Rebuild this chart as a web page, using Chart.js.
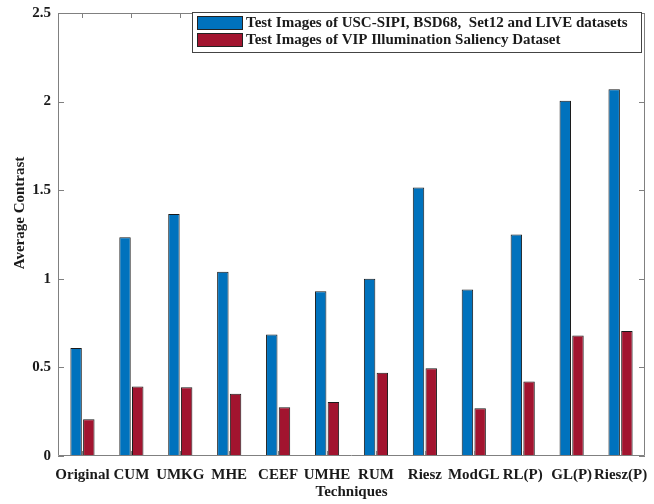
<!DOCTYPE html>
<html>
<head>
<meta charset="utf-8">
<script src="https://cdn.jsdelivr.net/npm/chart.js@4/dist/chart.umd.min.js"></script>
<style>
  html, body { margin: 0; padding: 0; background: #fff; }
  #wrap { width: 654px; height: 504px; }
</style>
</head>
<body>
<div id="wrap"><canvas id="barChart" width="654" height="504"></canvas></div>
<script>
const techniques = ['Original', 'CUM', 'UMKG', 'MHE', 'CEEF', 'UMHE', 'RUM', 'Riesz', 'ModGL', 'RL(P)', 'GL(P)', 'Riesz(P)'];
const testImagesUSC = [0.61, 1.235, 1.365, 1.04, 0.685, 0.93, 1.0, 1.515, 0.94, 1.25, 2.005, 2.07];
const testImagesVIP = [0.207, 0.392, 0.388, 0.352, 0.275, 0.305, 0.47, 0.495, 0.27, 0.42, 0.68, 0.705];
const yTicks = [0, 0.5, 1, 1.5, 2, 2.5];
const seriesNames = [
  'Test Images of USC-SIPI, BSD68,  Set12 and LIVE datasets',
  'Test Images of VIP Illumination Saliency Dataset'
];
const colors = ['#0072BD', '#A2142F'];

const serif = "'Liberation Serif', 'Times New Roman', serif";
const axisGrey = '#808080';
const textColor = '#1a1a1a';

// MATLAB style box, inward ticks, y label and legend
const matlabBox = {
  id: 'matlabBox',
  afterDraw(chart) {
    const ctx = chart.ctx;
    const a = chart.chartArea;
    const x = chart.scales.x, y = chart.scales.y;
    ctx.save();
    ctx.strokeStyle = axisGrey;
    ctx.lineWidth = 1;
    ctx.beginPath();
    ctx.moveTo(a.left + 0.5, a.top + 0.5);
    ctx.lineTo(a.right - 0.5, a.top + 0.5);
    ctx.lineTo(a.right - 0.5, a.bottom - 0.5);
    ctx.moveTo(a.left + 0.5, a.top + 0.5);
    ctx.lineTo(a.left + 0.5, a.bottom - 0.5);
    ctx.lineTo(a.right - 0.5, a.bottom - 0.5);
    yTicks.forEach(v => {
      const py = Math.round(y.getPixelForValue(v)) + 0.5;
      ctx.moveTo(a.left, py); ctx.lineTo(a.left + 6, py);
      ctx.moveTo(a.right, py); ctx.lineTo(a.right - 6, py);
    });
    techniques.forEach((t, i) => {
      const px = Math.round(x.getPixelForValue(i)) + 0.5;
      ctx.moveTo(px, a.bottom); ctx.lineTo(px, a.bottom - 5);
      ctx.moveTo(px, a.top); ctx.lineTo(px, a.top + 5);
    });
    ctx.stroke();

    // y axis label (sits a bit above the middle, as in the original)
    ctx.font = 'bold 15px ' + serif;
    ctx.fillStyle = textColor;
    ctx.textAlign = 'center';
    ctx.textBaseline = 'middle';
    ctx.translate(20, 213);
    ctx.rotate(-Math.PI / 2);
    ctx.fillText('Average Contrast', 0, 0);
    ctx.setTransform(1, 0, 0, 1, 0, 0);

    // legend
    const lx = 192, ly = 12, lw = 449, lh = 40;
    ctx.fillStyle = '#fff';
    ctx.fillRect(lx, ly, lw, lh);
    ctx.strokeStyle = '#444';
    ctx.strokeRect(lx + 0.5, ly + 0.5, lw, lh);
    ctx.textAlign = 'left';
    seriesNames.forEach((name, i) => {
      const sy = 16 + i * 17;
      ctx.fillStyle = colors[i];
      ctx.fillRect(197, sy, 45, 13);
      ctx.strokeStyle = '#222';
      ctx.strokeRect(197.5, sy + 0.5, 45, 13);
      ctx.fillStyle = textColor;
      ctx.fillText(name, 246, sy + 7);
    });
    ctx.restore();
  }
};

new Chart(document.getElementById('barChart'), {
  type: 'bar',
  data: {
    labels: techniques,
    datasets: [
      {
        label: seriesNames[0],
        data: testImagesUSC,
        backgroundColor: colors[0],
        borderColor: '#1a1a1a',
        borderWidth: 1,
        borderSkipped: 'bottom',
        categoryPercentage: 0.52,
        barPercentage: 0.9
      },
      {
        label: seriesNames[1],
        data: testImagesVIP,
        backgroundColor: colors[1],
        borderColor: '#1a1a1a',
        borderWidth: 1,
        borderSkipped: 'bottom',
        categoryPercentage: 0.52,
        barPercentage: 0.9
      }
    ]
  },
  options: {
    responsive: false,
    animation: false,
    layout: { padding: { left: 0, top: 13, right: 9, bottom: 0 } },
    plugins: {
      legend: { display: false },
      tooltip: { enabled: false }
    },
    scales: {
      x: {
        grid: { display: false, drawTicks: false },
        border: { display: false },
        ticks: {
          autoSkip: false,
          maxRotation: 0,
          padding: 10,
          color: textColor,
          font: { family: serif, size: 15, weight: 'bold' }
        },
        title: {
          display: true,
          text: 'Techniques',
          color: textColor,
          font: { family: serif, size: 15, weight: 'bold' },
          padding: { top: 0, bottom: 3 }
        },
        afterFit(scale) {
          scale.height = 48;
          scale.paddingLeft = 0;
          scale.paddingRight = 0;
        }
      },
      y: {
        min: 0,
        max: 2.5,
        afterBuildTicks(scale) { scale.ticks = yTicks.map(v => ({ value: v })); },
        grid: { display: false, drawTicks: false },
        border: { display: false },
        ticks: {
          padding: 7,
          color: textColor,
          font: { family: serif, size: 15, weight: 'bold' },
          callback: v => String(v)
        },
        afterFit(scale) {
          scale.width = 58;
          scale.paddingTop = 0;
          scale.paddingBottom = 0;
        }
      }
    }
  },
  plugins: [matlabBox]
});
</script>
</body>
</html>
